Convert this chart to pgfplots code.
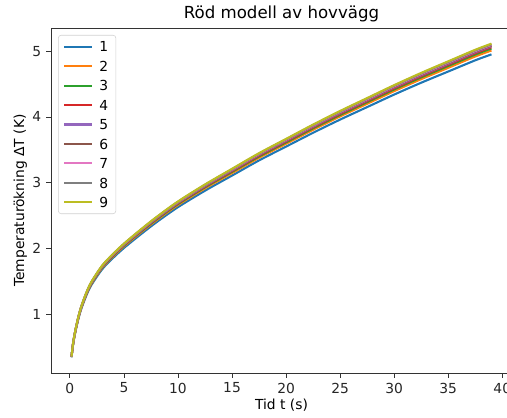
\documentclass[border=0pt]{standalone}
\usepackage{fontspec}
\setmainfont{DejaVu Sans}
\usepackage{pgfplots}
\usepackage{pgfplotstable}
\pgfplotsset{compat=1.18}
\definecolor{c1}{HTML}{1F77B4}
\definecolor{c2}{HTML}{FF7F0E}
\definecolor{c3}{HTML}{2CA02C}
\definecolor{c4}{HTML}{D62728}
\definecolor{c5}{HTML}{9467BD}
\definecolor{c6}{HTML}{8C564B}
\definecolor{c7}{HTML}{E377C2}
\definecolor{c8}{HTML}{7F7F7F}
\definecolor{c9}{HTML}{BCBD22}

% temperature rise per case
\pgfplotstableread{
t    s1   s2    s3    s4    s5    s6    s7    s8    s9
0.15 0.35 0.354 0.356 0.358 0.359 0.359 0.360 0.361 0.362
0.3  0.55 0.557 0.560 0.562 0.564 0.565 0.566 0.567 0.568
0.5  0.73 0.739 0.743 0.746 0.748 0.750 0.751 0.753 0.754
0.75 0.91 0.921 0.926 0.930 0.933 0.935 0.936 0.938 0.940
1    1.06 1.073 1.079 1.083 1.087 1.089 1.091 1.093 1.095
1.5  1.28 1.295 1.303 1.308 1.312 1.315 1.317 1.320 1.322
2    1.45 1.467 1.476 1.482 1.486 1.489 1.492 1.495 1.498
3    1.69 1.710 1.720 1.727 1.732 1.736 1.739 1.742 1.746
4    1.86 1.882 1.893 1.901 1.907 1.910 1.914 1.918 1.921
5    2.01 2.034 2.046 2.054 2.060 2.064 2.068 2.072 2.076
6.5  2.21 2.237 2.250 2.259 2.265 2.270 2.274 2.279 2.283
8    2.40 2.429 2.443 2.453 2.460 2.465 2.470 2.474 2.479
10   2.63 2.662 2.677 2.688 2.696 2.701 2.706 2.712 2.717
12.5 2.88 2.915 2.932 2.943 2.952 2.958 2.964 2.969 2.975
15   3.11 3.147 3.166 3.178 3.188 3.194 3.200 3.206 3.213
17.5 3.34 3.380 3.400 3.413 3.424 3.430 3.437 3.444 3.450
20   3.55 3.593 3.614 3.628 3.639 3.646 3.653 3.660 3.667
22.5 3.76 3.805 3.828 3.843 3.854 3.862 3.869 3.877 3.884
25   3.96 4.008 4.031 4.047 4.059 4.067 4.075 4.083 4.091
27.5 4.15 4.200 4.225 4.241 4.254 4.262 4.270 4.279 4.287
30   4.34 4.392 4.418 4.435 4.449 4.457 4.466 4.475 4.483
32.5 4.52 4.574 4.601 4.619 4.633 4.642 4.651 4.660 4.669
35   4.69 4.746 4.774 4.793 4.807 4.817 4.826 4.835 4.845
37.5 4.86 4.918 4.947 4.967 4.982 4.991 5.001 5.011 5.020
39   4.95 5.009 5.039 5.059 5.074 5.084 5.094 5.103 5.113
}\data

\begin{document}
\begin{tikzpicture}
\begin{axis}[
  at={(0,0)},anchor=south west,
  scale only axis,width=331.9bp,height=248.4bp,
  xmin=-1.75,xmax=40.9,ymin=0.11,ymax=5.35,
  xtick={0,5,...,40},ytick={1,2,3,4,5},
  xtick pos=bottom,ytick pos=left,tick align=outside,
  major tick length=3.5bp,
  every tick/.style={black!80,line width=0.6bp},
  axis line style={black!80,line width=0.6bp},
  /pgf/number format/assume math mode=true,
  tick label style={font=\fontsize{10}{12}\selectfont,text=black!85},
  label style={font=\fontsize{10}{12}\selectfont},
  title={Röd modell av hovvägg},
  title style={font=\fontsize{12}{14}\selectfont,yshift=-5bp},
  xlabel={Tid t (s)},ylabel={Temperaturökning ΔT (K)},
  xlabel style={yshift=3bp},ylabel style={yshift=-3bp},
  legend cell align=left,
  legend style={at={(0.0155,0.98)},anchor=north west,
    draw=black!18,rounded corners=2pt,
    font=\fontsize{10}{12}\selectfont,
    row sep=2.5bp,column sep=2.5bp,inner xsep=3.5bp,inner ysep=2.5bp,
    nodes={text height=7.5bp,text depth=0bp,inner sep=2bp}},
  legend image code/.code={\draw[#1] (0bp,0bp) -- (20bp,0bp);},
  every axis plot/.append style={line width=1.5bp,smooth},
]
\addplot[c1] table[x=t,y=s1] {\data};
\addplot[c2] table[x=t,y=s2] {\data};
\addplot[c3] table[x=t,y=s3] {\data};
\addplot[c4] table[x=t,y=s4] {\data};
\addplot[c5] table[x=t,y=s5] {\data};
\addplot[c6] table[x=t,y=s6] {\data};
\addplot[c7] table[x=t,y=s7] {\data};
\addplot[c8] table[x=t,y=s8] {\data};
\addplot[c9] table[x=t,y=s9] {\data};
\legend{1,2,3,4,5,6,7,8,9}
\end{axis}
\pgfresetboundingbox
\path[use as bounding box] (-36.7bp,-31.7bp) rectangle (328.3bp,268.6bp);
\end{tikzpicture}
\end{document}
